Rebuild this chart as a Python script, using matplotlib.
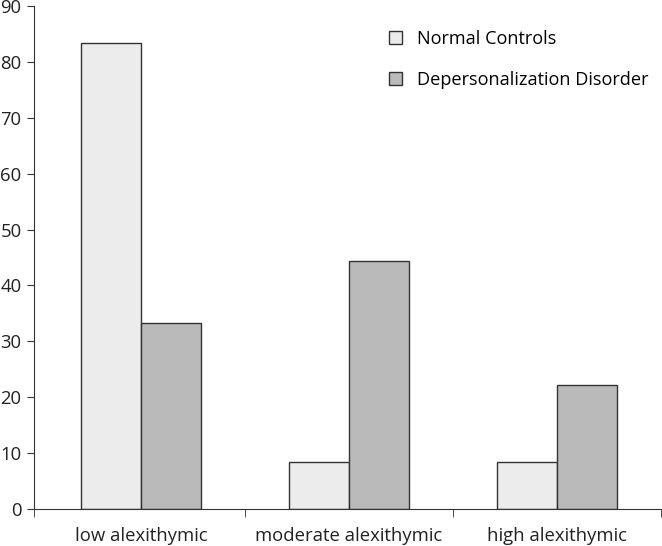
import numpy as np
import matplotlib.pyplot as plt

plt.rcParams['font.family'] = ['Open Sans', 'DejaVu Sans']

categories = ['low alexithymic', 'moderate alexithymic', 'high alexithymic']
normal_controls = [83.3, 8.3, 8.3]
depersonalization = [33.3, 44.4, 22.2]


def show():
    fig = plt.figure(figsize=(6.62, 5.46), dpi=100)
    ax = fig.add_axes([0.0514, 0.068, 0.947, 0.921])

    x = np.arange(len(categories))
    w = 0.29

    ax.bar(x - w / 2, normal_controls, w, color='#ececec', edgecolor='#333333',
           linewidth=1, label='Normal Controls')
    ax.bar(x + w / 2, depersonalization, w, color='#bababa', edgecolor='#333333',
           linewidth=1, label='Depersonalization Disorder')

    ax.set_xlim(-0.514, 2.5)
    ax.set_ylim(0, 90)
    ax.set_yticks(range(0, 91, 10))

    ax.set_xticks(x)
    ax.set_xticklabels(categories)
    ax.set_xticks([-0.514, 0.5, 1.5, 2.5], minor=True)
    ax.tick_params(axis='x', which='major', length=0, pad=13, labelsize=13.3, colors='#222222')
    ax.tick_params(axis='x', which='minor', length=6, direction='out', color='#333333')
    ax.tick_params(axis='y', length=5, direction='out', labelsize=13.3, colors='#222222',
                   color='#333333', pad=4)

    for s in ['top', 'right']:
        ax.spines[s].set_visible(False)
    for s in ['left', 'bottom']:
        ax.spines[s].set_color('#333333')

    ax.legend(loc='upper right', bbox_to_anchor=(1.006, 0.985), frameon=False,
              fontsize=13.1, handlelength=0.75, handleheight=0.75,
              handletextpad=0.8, labelspacing=1.25)

    fig.savefig('out.png', dpi=100)


if __name__ == '__main__':
    show()
